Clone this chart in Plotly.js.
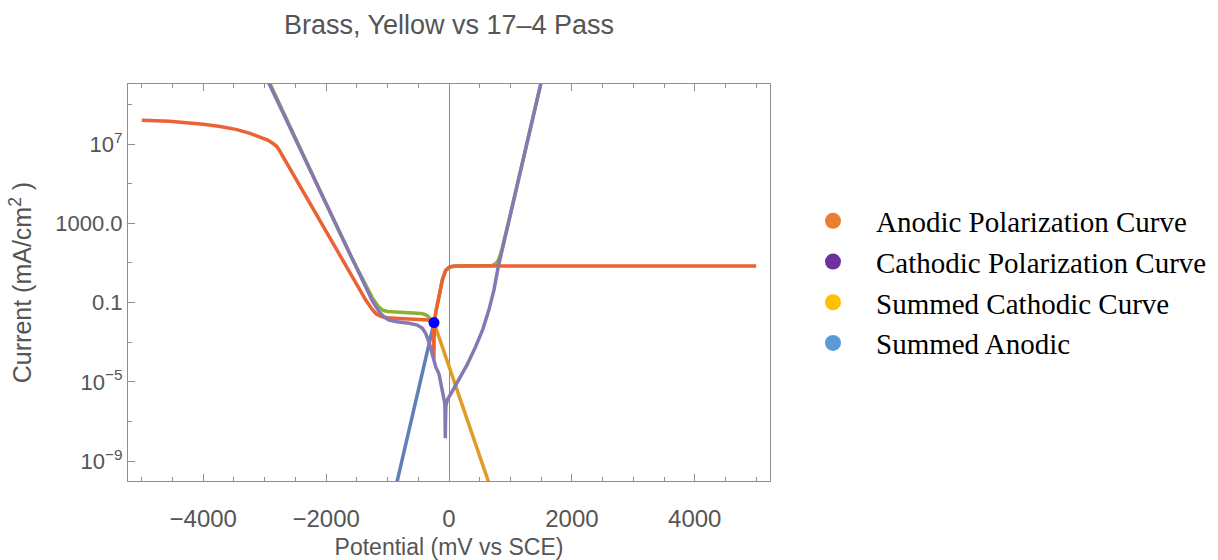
<!DOCTYPE html>
<html>
<head>
<meta charset="utf-8">
<script src="https://cdn.plot.ly/plotly-3.0.1.min.js"></script>
<style>html,body{margin:0;padding:0;background:#fff;}#chart{width:1218px;height:560px;}</style>
</head>
<body>
<div id="chart"></div>
<script>
// Potential (mV vs SCE) and current (mA/cm^2)
const anodicX = [-5000,-4550,-4000,-3750,-3470,-3250,-3090,-2950,-2870,-2810,-2764,-2114,-1600,-1355,-1250,-1180,-1100,-1000,-813,-434,-330,-290,-265,-252,-247,-242,-232,-216,-163,-109,-54,0,50,109,5000];
const anodicY = [1.6e8,1.4e8,1.0e8,8.0e7,5.5e7,3.55e7,2.3e7,1.6e7,1.1e7,7.9e6,5.0e6,1.5e3,2.6,0.135,0.045,0.026,0.020,0.0174,0.0158,0.0145,0.0132,0.0112,0.0071,1.6e-3,1.26e-4,1.6e-3,0.01,0.032,0.2,1.38,4.2,6.0,6.8,7.1,7.1];

const cathodicX = [-2960,-2500,-2033,-1600,-1400,-1250,-1138,-1050,-976,-850,-650,-515,-434,-380,-325,-270,-217,-163,-109,-81,-67,-63,-60,-57,-50,-27,50,163,300,434,550,650,732,802,1491,1510];
const cathodicY = [1.8e10,1.8e7,1.5e4,21,1.1,0.126,0.035,0.0178,0.0132,0.0107,0.0091,0.0074,0.0051,0.0028,1.0e-3,2.2e-4,5.9e-5,2.5e-5,4.5e-6,1.8e-6,7.9e-7,1.0e-7,1.45e-8,1.0e-7,6.3e-7,1.23e-6,3.2e-6,1.26e-5,7.9e-5,6.0e-4,4.5e-3,0.043,0.44,6.5,1.0e10,1.8e10];

const totalX = [-2945,-2500,-2033,-1600,-1400,-1250,-1150,-1080,-1000,-800,-600,-450,-380,-330,-290,-260,-232,-216,-163,-109,-54,0,109,700,760,802,850,1000,1491,1510];
const totalY = [1.8e10,1.86e7,1.6e4,23,1.26,0.178,0.063,0.042,0.0355,0.0324,0.031,0.028,0.0245,0.019,0.0132,0.0105,0.0141,0.032,0.2,1.38,4.2,6.0,7.1,7.4,9.1,13.5,35,2.9e3,1.0e10,1.8e10];

const sumAnodicX = [-880,-244];
const sumAnodicY = [3.2e-11,9.8e-3];

const sumCathodicX = [-244,700];
const sumCathodicY = [9.8e-3,2.8e-11];

const corrX = [-244];
const corrY = [9.8e-3];

const legendNames = ["Anodic Polarization Curve","Cathodic Polarization Curve","Summed Cathodic Curve","Summed Anodic"];
const legendColors = ["#ED7D31","#7030A0","#FFC000","#5B9BD5"];

const yTickVals = [1e-9,1e-5,0.1,1000,1e7];
const yTickText = ["10<sup>−9</sup>","10<sup>−5</sup>","0.1","1000.0","10<sup>7</sup>"];
const yMinorVals = [1e-7,1e-3,10,1e5,1e9];

const lw = 3.5;
const traces = [
  {x:sumAnodicX,y:sumAnodicY,mode:'lines',line:{color:'#5E81B5',width:lw},showlegend:false,hoverinfo:'skip'},
  {x:sumCathodicX,y:sumCathodicY,mode:'lines',line:{color:'#E19C24',width:lw},showlegend:false,hoverinfo:'skip'},
  {x:totalX,y:totalY,mode:'lines',line:{color:'#8FB032',width:lw},showlegend:false,hoverinfo:'skip'},
  {x:anodicX,y:anodicY,mode:'lines',line:{color:'#EB6235',width:lw},showlegend:false,hoverinfo:'skip'},
  {x:cathodicX,y:cathodicY,mode:'lines',line:{color:'#8778B3',width:lw},showlegend:false,hoverinfo:'skip'},
  {x:corrX,y:corrY,mode:'markers',marker:{color:'#0000FF',size:11},showlegend:false,hoverinfo:'skip'}
];
legendNames.forEach((n,i)=>{
  traces.push({x:[null],y:[null],mode:'markers',name:n,marker:{color:legendColors[i],size:16},showlegend:true});
});

const axisColor = '#8f8f8f';
const textColor = '#555555';
const layout = {
  width:1218,height:560,
  paper_bgcolor:'#ffffff',plot_bgcolor:'#ffffff',
  margin:{l:128,r:447.5,t:84,b:79,pad:0},
  font:{family:'Liberation Sans, Arial, sans-serif',color:textColor},
  title:{text:'Brass, Yellow vs 17–4 Pass',font:{size:27,color:textColor},x:0.5,xref:'paper',xanchor:'center',y:1-25/560,yref:'container',yanchor:'middle'},
  xaxis:{
    range:[-5225,5225],tickmode:'linear',tick0:0,dtick:2000,
    ticks:'inside',ticklen:7,tickwidth:1,tickcolor:axisColor,
    showline:true,linecolor:axisColor,linewidth:1,mirror:'ticks',
    showgrid:false,zeroline:true,zerolinecolor:'#8a8a8a',zerolinewidth:1,
    tickfont:{size:24,color:textColor},ticklabelstandoff:16,
    minor:{dtick:500,tick0:0,ticks:'inside',ticklen:4,tickcolor:axisColor,showgrid:false},
    title:{text:'Potential (mV vs SCE)',font:{size:23,color:textColor},standoff:10},
    automargin:false
  },
  yaxis:{
    type:'log',range:[-10,10.03],tickmode:'array',tickvals:yTickVals,ticktext:yTickText,
    ticks:'inside',ticklen:7,tickwidth:1,tickcolor:axisColor,
    showline:true,linecolor:axisColor,linewidth:1,mirror:true,
    showgrid:false,zeroline:false,
    tickfont:{size:22,color:textColor},
    minor:{tickmode:'array',tickvals:yMinorVals,ticks:'inside',ticklen:4,tickcolor:axisColor,showgrid:false},
    title:{text:'Current (mA/cm<sup>2</sup> )',font:{size:25,color:textColor},standoff:16},
    automargin:false
  },
  showlegend:true,
  legend:{xref:'container',yref:'container',x:790/1218,y:1-195.5/560,xanchor:'left',yanchor:'top',
    font:{family:'Liberation Serif, Times New Roman, serif',size:29,color:'#000000'},
    itemwidth:76,bgcolor:'rgba(0,0,0,0)',borderwidth:0,itemclick:false,itemdoubleclick:false}
};
Plotly.newPlot('chart',traces,layout,{displayModeBar:false,staticPlot:true});
</script>
</body>
</html>
